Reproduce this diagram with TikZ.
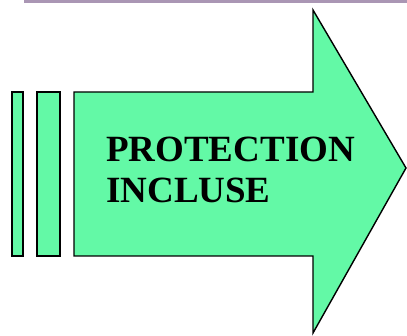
\documentclass[tikz,border=0pt]{standalone}
\usepackage{fontspec}
\setmainfont{Liberation Serif}
\definecolor{arrowgreen}{RGB}{99,249,166}
\definecolor{stripdark}{RGB}{105,15,105}
\definecolor{striplight}{RGB}{170,150,180}
\begin{document}
\begin{tikzpicture}[x=1pt,y=-1pt,
  shapefill/.style={fill=arrowgreen,draw=black,line width=1.4pt,line join=miter},
  label/.style={font=\fontsize{37}{41}\selectfont\bfseries,anchor=base west,inner sep=0pt}]
\useasboundingbox (0,0) rectangle (407,336);
% top strip
\shade[left color=striplight,middle color=stripdark,right color=striplight] (24,0) rectangle (407,2.5);
% bars
\draw[shapefill] (12,92) rectangle (23,256);
\draw[shapefill] (37,92) rectangle (60,256);
% arrow
\draw[shapefill] (74,92) -- (313,92) -- (313,10) -- (406,168) -- (313,333) -- (313,256) -- (74,256) -- cycle;
\node[label] (t1) at (106,162) {PROTECTION};
\node[label] (t2) at (106,203) {INCLUSE};
\end{tikzpicture}
\end{document}
